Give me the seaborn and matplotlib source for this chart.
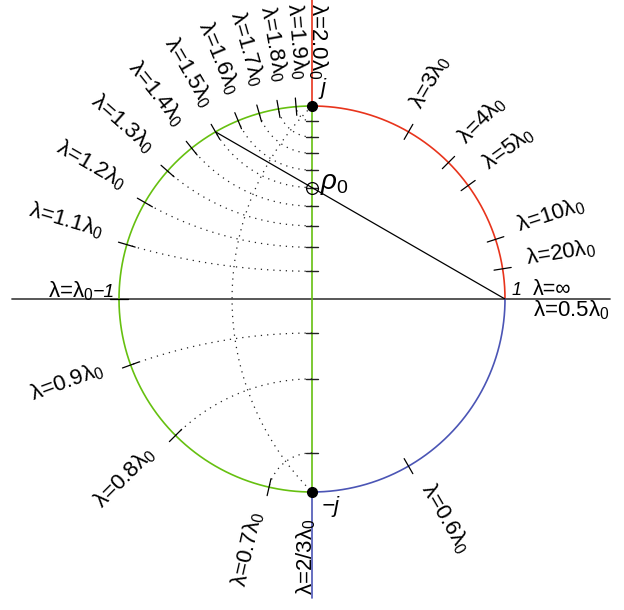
import numpy as np
import seaborn as sns
import matplotlib.pyplot as plt

# wavelength ratios (lambda / lambda0) marked on the unit circle
top_left = [1.1, 1.2, 1.3, 1.4, 1.5, 1.6, 1.7, 1.8, 1.9]
top_left_text = ['1.1', '1.2', '1.3', '1.4', '1.5', '1.6', '1.7', '1.8', '1.9']
bottom_left = [0.9, 0.8, 0.7]
bottom_left_text = ['0.9', '0.8', '0.7']
right_side = [3, 4, 5, 10, 20, 0.6]
right_side_text = ['3', '4', '5', '10', '20', '0.6']
pole_ratios = [2.0, 2 / 3]          # the points j and -j
pole_text = ['2.0', '2/3']
rho0_ratio = 1.5                    # chord through rho0

RED = '#e8341c'
GREEN = '#66c010'
BLUE = '#4b55b5'
DOT = (0, (1, 4))

sns.set_theme(style='white')
plt.rcParams['font.family'] = ['Liberation Sans', 'DejaVu Sans']
plt.rcParams['mathtext.fontset'] = 'custom'
plt.rcParams['mathtext.rm'] = 'Liberation Sans'
plt.rcParams['mathtext.it'] = 'Liberation Sans:italic'
plt.rcParams['text.color'] = 'black'


def phase(r):
    return np.pi / r


def lam_label(s):
    return r'λ=$\mathit{' + s + r'}\mathrm{λ}_{\mathit{0}}$'


fig = plt.figure(figsize=(6.24, 6.10), dpi=100)
ax = fig.add_axes([0, 0, 1, 1])
ax.set_axis_off()
R = 193.0
ax.set_xlim(-312 / R, 312 / R)
ax.set_ylim(-311 / R, 299 / R)
ax.set_aspect('equal')

# real axis
ax.plot([-1.555, 1.545], [0, 0], color='#4a4a4a', lw=1.3, zorder=1)

# unit circle in three colours
t = np.linspace(np.pi / 2, 3 * np.pi / 2, 300)
sns.lineplot(x=np.cos(t), y=np.sin(t), sort=False, estimator=None, color=GREEN, lw=1.2, ax=ax)
t = np.linspace(0, np.pi / 2, 200)
sns.lineplot(x=np.cos(t), y=np.sin(t), sort=False, estimator=None, color=RED, lw=1.2, ax=ax)
t = np.linspace(3 * np.pi / 2, 2 * np.pi, 200)
sns.lineplot(x=np.cos(t), y=np.sin(t), sort=False, estimator=None, color=BLUE, lw=1.2, ax=ax)

# imaginary axis
ax.plot([0, 0], [-1, 1], color=GREEN, lw=1.2)
ax.plot([0, 0], [1, 1.6], color=RED, lw=1.2)
ax.plot([0, 0], [-1, -1.55], color=BLUE, lw=1.2)

# dotted arcs from each circle point to the imaginary axis
for r in top_left + bottom_left:
    p = phase(r)
    c = 1 / np.sin(p)
    rad = abs(1 / np.tan(p))
    a0 = -np.pi / 2 if c > 0 else np.pi / 2
    a1 = np.arctan2(np.sin(p) - c, np.cos(p))
    a = np.linspace(a0, a1, 120)
    sns.lineplot(x=rad * np.cos(a), y=c + rad * np.sin(a), sort=False, estimator=None,
                 color='#222222', lw=0.9, linestyle=DOT, ax=ax)
    yk = c - np.sign(c) * rad
    ax.plot([-0.033, 0.033], [yk, yk], color='#222222', lw=1.0)

# dotted locus |z - 1| = sqrt(2) between j and -j
a = np.linspace(3 * np.pi / 4, 5 * np.pi / 4, 200)
sns.lineplot(x=1 + np.sqrt(2) * np.cos(a), y=np.sqrt(2) * np.sin(a), sort=False, estimator=None,
             color='#222222', lw=0.9, linestyle=DOT, ax=ax)

# radial ticks on the circle
for r in top_left + bottom_left + right_side + [1.0]:
    p = phase(r)
    ax.plot([0.955 * np.cos(p), 1.045 * np.cos(p)], [0.955 * np.sin(p), 1.045 * np.sin(p)],
            color='black', lw=0.9)

# chord from 1 through rho0
p = phase(rho0_ratio)
ax.plot([np.cos(p), 1], [np.sin(p), 0], color='black', lw=0.9)
ax.plot([0], [1 / np.tan(p / 2)], marker='o', ms=8.5, mfc='none', mec='black', mew=0.9)

# the points j and -j
ax.plot([0, 0], [1, -1], 'o', color='black', ms=7, ls='none', zorder=5)

# circle labels
FS = 16
for r, s in zip(top_left + bottom_left + pole_ratios,
                top_left_text + bottom_left_text + pole_text):
    p = phase(r)
    ax.text(1.14 * np.cos(p), 1.14 * np.sin(p), lam_label(s), fontsize=FS,
            rotation=np.degrees(p) - 180, rotation_mode='anchor', ha='right', va='baseline')
for r, s in zip(right_side, right_side_text):
    p = phase(r)
    rot = np.degrees(p)
    if rot > 180:
        rot -= 360
    ax.text(1.13 * np.cos(p), 1.13 * np.sin(p), lam_label(s), fontsize=FS,
            rotation=rot, rotation_mode='anchor', ha='left', va='baseline')

# point labels
ax.text(1.145, -0.09, lam_label('0.5'), fontsize=FS, ha='left', va='baseline')
ax.text(1.145, 0.02, 'λ=∞', fontsize=15.5, ha='left', va='baseline')
ax.text(1.036, 0.02, '1', fontsize=13, style='italic', ha='left', va='baseline')
ax.text(-1.02, 0.012, '−1', fontsize=14, style='italic', ha='right', va='baseline')
ax.text(-1.13, 0.008, r'λ=$\mathrm{λ}_{\mathit{0}}$', fontsize=FS, ha='right', va='baseline')
ax.text(0.045, 1.035, 'j', fontsize=16, style='italic', ha='left', va='bottom')
ax.text(0.05, -1.02, '−j', fontsize=16, style='italic', ha='left', va='top')
ax.text(0.04, 0.57, r'$\mathit{ρ}_{\mathit{0}}$', fontsize=20, ha='left', va='baseline')

fig.savefig('out.png', dpi=100)
